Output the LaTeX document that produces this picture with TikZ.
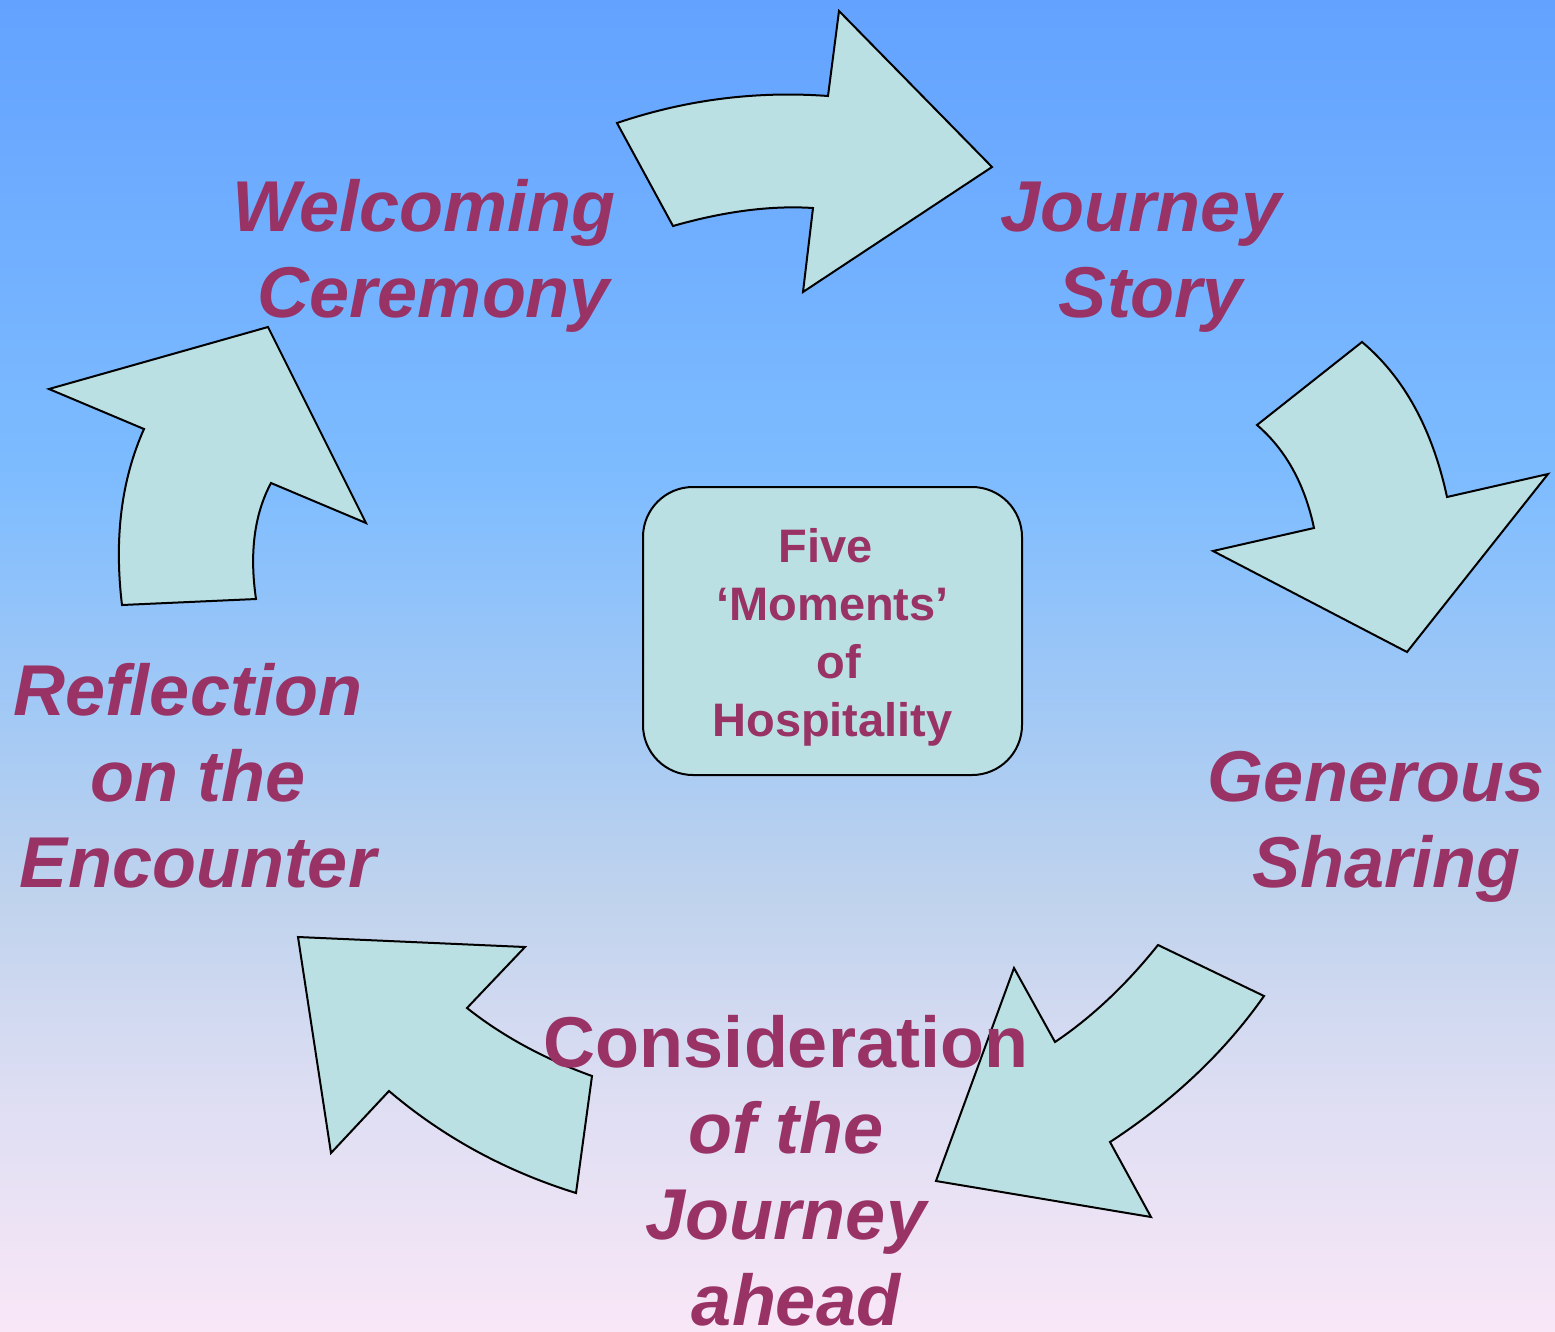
\documentclass[tikz,border=0pt]{standalone}
\usepackage{fontspec}
\setmainfont{Liberation Sans}
\usepackage{tikz}
\usetikzlibrary{positioning}
\definecolor{skytop}{RGB}{99,162,255}
\definecolor{skymid}{RGB}{126,188,255}
\definecolor{skylow}{RGB}{192,211,237}
\definecolor{lilac}{RGB}{222,222,243}
\definecolor{rosebot}{RGB}{249,231,247}
\definecolor{tealpale}{RGB}{187,224,227}
\definecolor{plumtext}{RGB}{153,51,102}
\pgfdeclareverticalshading{skyfade}{100bp}{color(0bp)=(rosebot); color(25bp)=(rosebot); color(33.7bp)=(lilac); color(41.2bp)=(skylow); color(57bp)=(skymid); color(75bp)=(skytop); color(100bp)=(skytop)}
\newcommand{\trailsp}{\hspace*{0.278em}}

\begin{document}
\begin{tikzpicture}[x=1pt,y=-1pt,
				arr/.style={draw=black,fill=tealpale,line width=2pt,line join=miter},
				lab/.style={text=plumtext,align=center,anchor=base,inner sep=0pt,
					font=\fontsize{72}{86}\selectfont\bfseries\itshape},
				box/.style={draw=black,fill=tealpale,line width=2pt,rounded corners=50pt,
					minimum width=379pt,minimum height=288pt,inner sep=0pt,
					align=center,text=plumtext,text height=220pt,
					font=\fontsize{47}{57.8}\selectfont\bfseries}]
				
				\useasboundingbox (0,0) rectangle (1555,1331);
				\shade[shading=skyfade] (0,0) rectangle (1555,1331);
				
				\draw[arr] (617,123) .. controls (685.7,99.7) and (756,90.7) .. (828,96) -- (839,11) -- (992,167) -- (803,292)
					-- (813,208) .. controls (771,205.3) and (724.3,211.3) .. (673,226) -- cycle;
				\draw[arr] (1362,342) .. controls (1404,377.3) and (1432.3,429) .. (1447,497) -- (1548,474) -- (1407,652) -- (1213,551)
					-- (1314,528) .. controls (1304.7,484) and (1285.7,449.7) .. (1257,425) -- cycle;
				\draw[arr] (1264,996) .. controls (1224.7,1052) and (1173.3,1100.7) .. (1110,1142) -- (1151,1217) -- (936,1181) -- (1014,968)
					-- (1055,1042) .. controls (1091.7,1017.3) and (1126,985) .. (1158,945) -- cycle;
				\draw[arr] (576,1193) .. controls (505.3,1171) and (443,1137) .. (389,1091) -- (331,1153) -- (298,937) -- (525,947)
					-- (467,1008) .. controls (502.3,1036) and (544,1058.7) .. (592,1076) -- cycle;
				\draw[arr] (122,605) .. controls (114,538.3) and (121.3,479.7) .. (144,429) -- (49,389) -- (268,327) -- (366,523)
					-- (271,483) .. controls (254.3,514.3) and (249.3,553) .. (256,599) -- cycle;
				
				\node[box] (H) at (832.5,631) {Five\trailsp\\‘Moments’\\\trailsp of\\Hospitality};
				
				\node[lab] (W) at (434,317)  {Welcoming\trailsp\\Ceremony};
				\node[lab] (J) at (1151,317) {Journey\trailsp\\Story};
				\node[lab] (G) at (1386,887) {Generous\trailsp\\Sharing};
				\node[lab] (C) at (786,1325) {{\upshape Consideration}\\of the\\Journey\\\trailsp ahead};
				\node[lab] (R) at (198,887)  {Reflection\trailsp\\on the\trailsp\\Encounter};
			\end{tikzpicture}
\end{document}
